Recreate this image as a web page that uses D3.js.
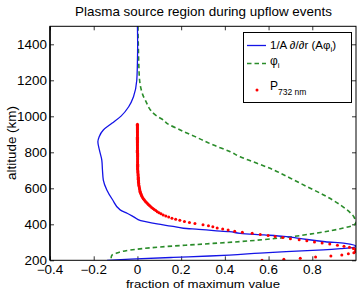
<!DOCTYPE html>
<html><head><meta charset="utf-8">
<script src="https://cdn.jsdelivr.net/npm/d3@7"></script>
<style>
body{margin:0;background:#fff}
text{font-family:"Liberation Sans",Arial,Helvetica,sans-serif;fill:#000}
</style></head>
<body><svg id="c" width="358" height="290"></svg>
<script>
// ---------------- data ----------------
const title = "Plasma source region during upflow events";
const xLabel = "fraction of maximum value";
const yLabel = "altitude (km)";
const xTicks = [-0.4, -0.2, 0, 0.2, 0.4, 0.6, 0.8];
const xTickLabels = ["\u22120.4", "\u22120.2", "0", "0.2", "0.4", "0.6", "0.8"];
const yTicks = [200, 400, 600, 800, 1000, 1200, 1400];
const yTickLabels = ["200", "400", "600", "800", "1000", "1200", "1400"];

// 1/A d/dr (A phi_i)  (blue solid)
const blueAlt = [1500,1400,1300,1200,1109,1053,1001,961,924,887,859,813,757,702,646,591,535,480,460,440,420,402,387,378,372,365,359,350,341,333,322,303,294,285,278,272,265,258,248,240,229,224,216,206,200];
const blueVal = [0.000,0.001,0.000,-0.003,-0.018,-0.040,-0.075,-0.117,-0.156,-0.175,-0.181,-0.174,-0.163,-0.160,-0.156,-0.140,-0.113,-0.079,-0.045,-0.015,0.015,0.090,0.170,0.210,0.280,0.350,0.420,0.470,0.580,0.670,0.740,0.860,0.950,0.990,1.000,0.990,0.930,0.850,0.680,0.560,0.420,0.330,0.164,-0.033,-0.139];

// phi_i (green dashed)
const greenAlt = [1500,1400,1300,1200,1109,1072,1053,1001,979,961,924,887,840,803,775,757,739,702,656,609,563,507,463,442,424,410,396,379,352,324,304,288,274,257,240,229,215,200];
const greenVal = [0.002,0.004,0.006,0.010,0.028,0.043,0.050,0.089,0.119,0.135,0.196,0.264,0.348,0.425,0.470,0.508,0.547,0.623,0.700,0.776,0.852,0.929,0.975,0.990,0.997,1.000,0.990,0.942,0.823,0.654,0.470,0.273,0.104,-0.033,-0.095,-0.116,-0.120,-0.120];

// P 732 nm (red dots)
const redAlt = [956,950,944,938,932,926,920,914,908,902,896,890,884,878,872,866,860,854,848,842,836,830,824,818,812,806,800,
  794,788,782,776,770,764,758,752,746,740,734,728,722,716,710,704,
  698,692,686,680,674,668,662,656,650,644,638,632,626,620,614,608,602,596,590,584,578,572,566,560,554,548,542,536,530,524,518,512,506,500,
  494,488,482,476,470,464,458,452,446,440,434,428,422,416,410,404,398,392,386,380,374,368,362,356,350,344,338,332,326,320,314,308,302,
  296,290,284,278,272,266,260,254,248,242,236,230,224,218,212,206,200];
const redVal = [0,0,0,0,0,0,0,0,0,0,0,0,0,0,0,0,0,0,0,0,0,0,0,0,0,0,0,
  0.001,0.001,0.001,0.001,0.001,0.001,0.001,0.001,0.001,0.001,0.001,0.001,0.001,0.001,0.001,0.001,
  0.002,0.002,0.002,0.003,0.003,0.003,0.004,0.004,0.004,0.005,0.005,0.005,0.006,0.006,0.007,0.008,0.009,0.010,0.011,0.012,0.013,0.015,0.017,0.019,0.021,0.024,0.027,0.031,0.035,0.039,0.044,0.049,0.054,0.059,
  0.065,0.071,0.077,0.084,0.091,0.099,0.108,0.118,0.130,0.143,0.158,0.175,0.194,0.215,0.238,0.263,0.300,0.325,0.345,0.365,0.390,0.415,0.445,0.480,0.525,0.562,0.598,0.630,0.665,0.700,0.740,0.775,0.810,
  0.845,0.880,0.915,0.945,0.970,0.988,0.998,1.000,0.997,0.990,0.965,0.935,0.885,0.815,0.745,0.670,0.570];

// ---------------- drawing ----------------
const svg = d3.select("#c");
const L = 50, R = 356, T = 26.3, B = 260.3;
const x = d3.scaleLinear().domain([-0.4, 1]).range([L, R]);
const y = d3.scaleLinear().domain([200, 1500]).range([B, T]);

function label(x0, y0, s, size, anchor, rot, sx) {
  const k = sx || 1.12;
  return svg.append("text")
    .attr("transform", `translate(${x0},${y0})` + (rot ? ` rotate(${rot})` : "") + ` scale(${k},1)`)
    .attr("font-size", size).attr("text-anchor", anchor || "start").text(s);
}

svg.append("rect").attr("x", 0).attr("y", 0).attr("width", 358).attr("height", 290).attr("fill", "#fff");

svg.append("clipPath").attr("id", "clip").append("rect")
  .attr("x", L).attr("y", T).attr("width", R - L).attr("height", B - T);

// ticks (inward, all four sides)
const axG = svg.append("g");
axG.append("g").attr("transform", `translate(0,${B})`)
  .call(d3.axisBottom(x).tickValues(xTicks).tickSize(-4).tickSizeOuter(0).tickFormat(""));
axG.append("g").attr("transform", `translate(0,${T})`)
  .call(d3.axisTop(x).tickValues(xTicks).tickSize(-4).tickSizeOuter(0).tickFormat(""));
axG.append("g").attr("transform", `translate(${L},0)`)
  .call(d3.axisLeft(y).tickValues(yTicks).tickSize(-4).tickSizeOuter(0).tickFormat(""));
axG.append("g").attr("transform", `translate(${R},0)`)
  .call(d3.axisRight(y).tickValues(yTicks).tickSize(-4).tickSizeOuter(0).tickFormat(""));
axG.selectAll(".domain").remove();
axG.selectAll(".tick line").attr("stroke", "#000").attr("stroke-width", 0.8);

const plot = svg.append("g").attr("clip-path", "url(#clip)");

const line = d3.line().x(d => x(d[1])).y(d => y(d[0])).curve(d3.curveMonotoneY);

plot.append("path").datum(greenAlt.map((a, i) => [a, greenVal[i]]))
  .attr("d", line).attr("fill", "none").attr("stroke", "#2a8c2a")
  .attr("stroke-width", 1.6).attr("stroke-dasharray", "4.5,3");

plot.append("path").datum(blueAlt.map((a, i) => [a, blueVal[i]]))
  .attr("d", line).attr("fill", "none").attr("stroke", "#1414e6").attr("stroke-width", 1.3);

plot.selectAll("circle.red").data(redAlt.map((a, i) => [a, redVal[i]]))
  .join("circle").attr("class", "red")
  .attr("cx", d => x(d[1])).attr("cy", d => y(d[0])).attr("r", 1.5).attr("fill", "#ff0000");

// box
svg.append("rect").attr("x", L).attr("y", T).attr("width", R - L).attr("height", B - T)
  .attr("fill", "none").attr("stroke", "#000").attr("stroke-width", 1);
svg.append("line").attr("x1", L).attr("x2", L).attr("y1", T).attr("y2", B)
  .attr("stroke", "#000").attr("stroke-width", 1.5);

// tick labels
xTicks.forEach((v, i) => label(x(v), 273.5, xTickLabels[i], 12, "middle"));
yTicks.forEach((v, i) => label(47, y(v) + 4.3, yTickLabels[i], 12, "end"));

// titles
label(203.5, 16, title, 12, "middle");
label(203, 287.5, xLabel, 11.5, "middle", 0, 1.15);
label(15.5, 143, yLabel, 12, "middle", -90);

// legend
const lg = svg.append("g");
lg.append("rect").attr("x", 243.5).attr("y", 32.5).attr("width", 108).attr("height", 70)
  .attr("fill", "#fff").attr("stroke", "#000").attr("stroke-width", 1);
lg.append("line").attr("x1", 247).attr("x2", 266).attr("y1", 45.5).attr("y2", 45.5)
  .attr("stroke", "#1414e6").attr("stroke-width", 1.3);
lg.append("line").attr("x1", 247).attr("x2", 266).attr("y1", 63.5).attr("y2", 63.5)
  .attr("stroke", "#2a8c2a").attr("stroke-width", 1.6).attr("stroke-dasharray", "4.5,3");
lg.append("circle").attr("cx", 257).attr("cy", 90).attr("r", 1.5).attr("fill", "#ff0000");

const t1 = label(270, 48.5, "", 11.5, "start", 0, 1.0);
t1.append("tspan").text("1/A \u2202/\u2202r (A\u03C6");
t1.append("tspan").attr("font-size", 8).attr("dy", 3).text("i");
t1.append("tspan").attr("dy", -3).text(")");
const t2 = label(270, 64.5, "", 12, "start", 0, 1.0);
t2.append("tspan").text("\u03C6");
t2.append("tspan").attr("font-size", 8).attr("dy", 3).text("i");
const t3 = label(270, 89.5, "", 12, "start", 0, 1.0);
t3.append("tspan").text("P");
t3.append("tspan").attr("font-size", 8.5).attr("dy", 5).text("732 nm");
</script></body></html>
